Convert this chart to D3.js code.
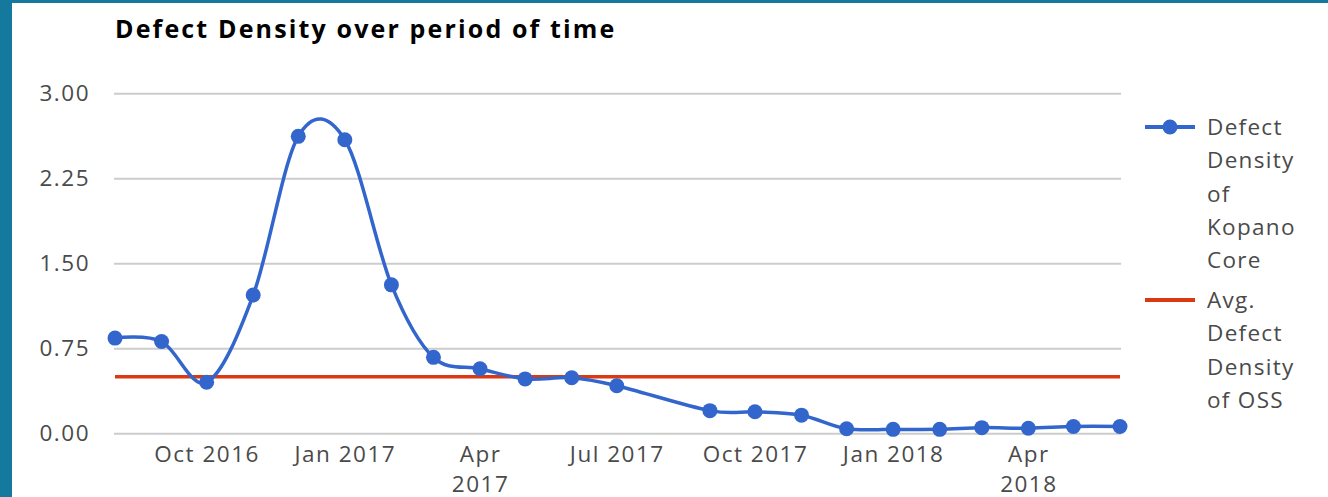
<!DOCTYPE html>
<html>
<head>
<meta charset="utf-8">
<script src="https://cdn.jsdelivr.net/npm/d3@7"></script>
<style>
  html, body { margin: 0; padding: 0; background: #fff; }
  body { width: 1328px; height: 497px; overflow: hidden; }
  svg { display: block; font-family: "Open Sans", "Noto Sans", sans-serif; }
</style>
</head>
<body>
<svg id="chart" width="1328" height="497"></svg>
<script>
// Monthly defect density readings (Aug 2017 has no reading).
const months = ['2016-08', '2016-09', '2016-10', '2016-11', '2016-12',
                '2017-01', '2017-02', '2017-03', '2017-04', '2017-05',
                '2017-06', '2017-07', '2017-09', '2017-10', '2017-11',
                '2017-12', '2018-01', '2018-02', '2018-03', '2018-04',
                '2018-05', '2018-06'];
const kopanoValues = [0.84, 0.81, 0.45, 1.22, 2.62,
                      2.59, 1.31, 0.67, 0.57, 0.48,
                      0.49, 0.42, 0.20, 0.19, 0.16,
                      0.04, 0.035, 0.035, 0.05, 0.045,
                      0.06, 0.06];
const ossAverage = 0.5;
const yTicks = [0, 0.75, 1.5, 2.25, 3];
const xTicks = ['2016-10', '2017-01', '2017-04', '2017-07', '2017-10',
                '2018-01', '2018-04'];
const seriesNames = [['Defect', 'Density', 'of', 'Kopano', 'Core'],
                     ['Avg.', 'Defect', 'Density', 'of OSS']];

const parseMonth = d3.timeParse('%Y-%m');
const data = months.map((m, i) => ({date: parseMonth(m), value: kopanoValues[i]}));

const blue = '#3366cc';
const red = '#dc3912';
const labelColor = '#4a4a4a';
const fontFamily = '"Open Sans", "Noto Sans", sans-serif';
const margin = {left: 115, right: 1120, top: 93.3, bottom: 433.3};

const svg = d3.select('#chart');

// Page frame (teal strips at left and top).
svg.append('rect').attr('x', 0).attr('y', 0).attr('width', 12).attr('height', 497)
    .attr('fill', '#14799d');
svg.append('rect').attr('x', 0).attr('y', 0).attr('width', 1328).attr('height', 3)
    .attr('fill', '#14799d');

let x = d3.scaleTime()
    .domain(d3.extent(data, d => d.date))
    .range([margin.left, margin.right]);
let y = d3.scaleLinear()
    .domain([0, 3])
    .range([margin.bottom, margin.top]);

svg.append('text')
    .attr('x', 115)
    .attr('y', 38)
    .attr('font-size', 25)
    .attr('font-weight', 'bold')
    .attr('letter-spacing', 2.15)
    .attr('fill', '#000')
    .text('Defect Density over period of time');

// Gridlines and y labels.
let yAxis = d3.axisLeft(y)
    .tickValues(yTicks)
    .tickFormat(d3.format('.2f'))
    .tickSize(-(margin.right - margin.left + 2))
    .tickPadding(24);
let gy = svg.append('g')
    .attr('transform', 'translate(' + (margin.left - 1) + ',0)')
    .call(yAxis)
    .attr('font-family', fontFamily);
gy.select('.domain').remove();
gy.selectAll('line').attr('stroke', '#cccccc').attr('stroke-width', 2);
gy.selectAll('text')
    .attr('font-size', 22.5)
    .attr('letter-spacing', 1.5)
    .attr('fill', labelColor);

// X labels; "Apr" ones wrap onto two lines as in the original.
let xAxis = d3.axisBottom(x)
    .tickValues(xTicks.map(parseMonth))
    .tickSize(0)
    .tickFormat(d3.timeFormat('%b %Y'));
let gx = svg.append('g')
    .attr('transform', 'translate(0,' + 441 + ')')
    .call(xAxis)
    .attr('font-family', fontFamily);
gx.select('.domain').remove();
gx.selectAll('text')
    .attr('font-size', 22.5)
    .attr('letter-spacing', 1.5)
    .attr('fill', labelColor)
    .each(function(d) {
      if (d.getMonth() === 3) {
        let t = d3.select(this).text('').attr('dy', null).attr('y', 21);
        t.append('tspan').attr('x', 0).text(d3.timeFormat('%b')(d));
        t.append('tspan').attr('x', 0).attr('dy', 30).text(d3.timeFormat('%Y')(d));
      } else {
        d3.select(this).attr('dy', null).attr('y', 21);
      }
    });

// Average line.
svg.append('line')
    .attr('x1', margin.left)
    .attr('x2', margin.right)
    .attr('y1', y(ossAverage))
    .attr('y2', y(ossAverage))
    .attr('stroke', red)
    .attr('stroke-width', 3.5);

// Kopano series.
let line = d3.line()
    .x(d => x(d.date))
    .y(d => y(d.value))
    .curve(d3.curveCardinal.tension(0));
svg.append('path')
    .datum(data)
    .attr('d', line)
    .attr('fill', 'none')
    .attr('stroke', blue)
    .attr('stroke-width', 3.5);
svg.append('g')
    .selectAll('circle')
    .data(data)
    .join('circle')
    .attr('cx', d => x(d.date))
    .attr('cy', d => y(d.value))
    .attr('r', 7.5)
    .attr('fill', blue);

// Legend.
let legendY = [127, 300];
let legendColors = [blue, red];
let legend = svg.append('g');
seriesNames.forEach((words, i) => {
  legend.append('line')
      .attr('x1', 1145).attr('x2', 1195)
      .attr('y1', legendY[i]).attr('y2', legendY[i])
      .attr('stroke', legendColors[i])
      .attr('stroke-width', 4);
  if (i === 0) {
    legend.append('circle')
        .attr('cx', 1170).attr('cy', legendY[i]).attr('r', 7.5)
        .attr('fill', blue);
  }
  legend.append('text')
      .attr('x', 1207)
      .attr('y', legendY[i] + 8)
      .attr('font-size', 22.5)
      .attr('letter-spacing', 1.3)
      .attr('fill', labelColor)
      .selectAll('tspan')
      .data(words)
      .join('tspan')
      .attr('x', 1207)
      .attr('dy', (w, j) => j === 0 ? 0 : 33.3)
      .text(w => w);
});
</script>
</body>
</html>
